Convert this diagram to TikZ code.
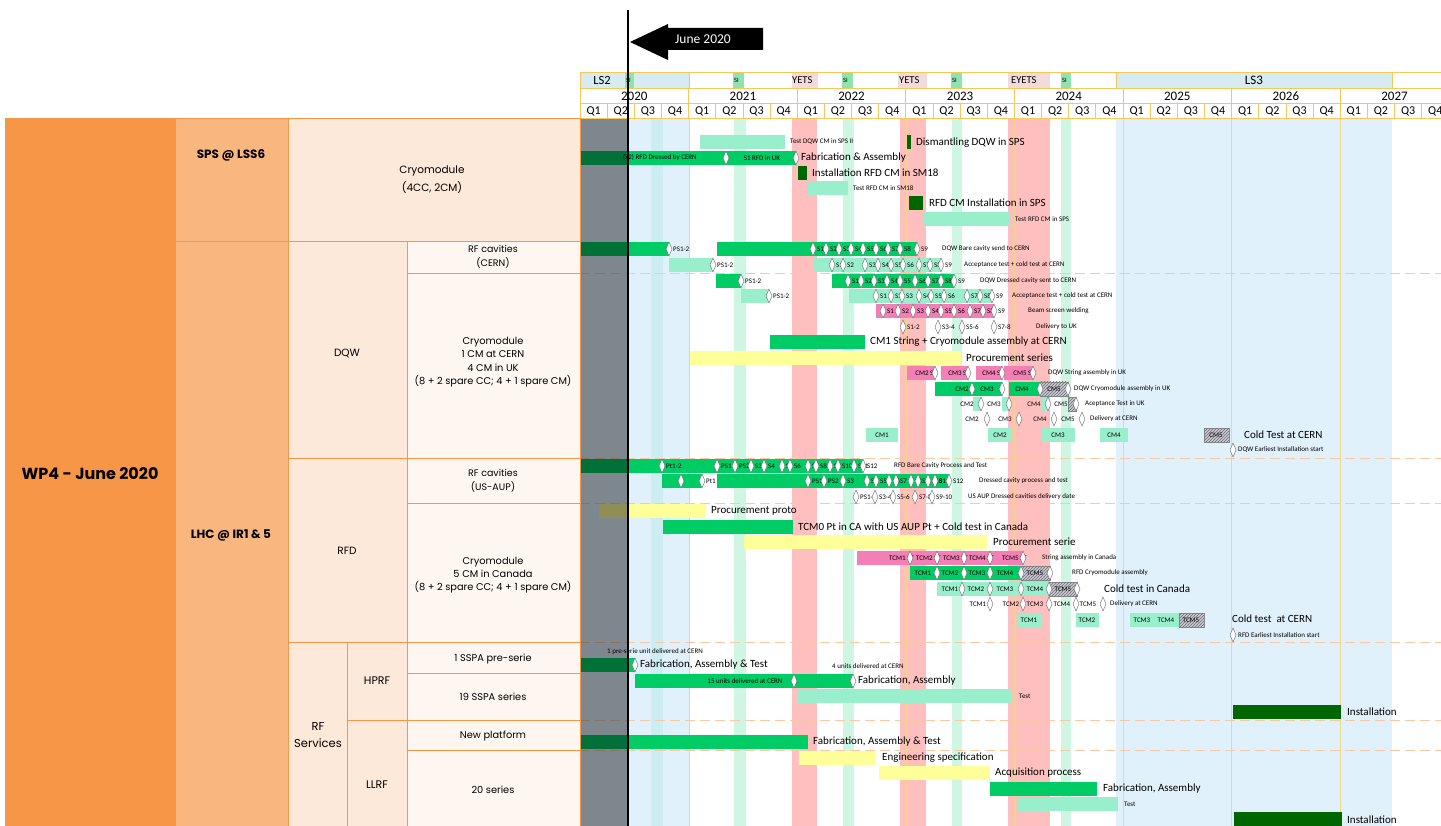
\documentclass[tikz,border=0pt]{standalone}
\usepackage{fontspec}
\setmainfont{Carlito}
\newfontfamily\lpfont{Poppins}
\usetikzlibrary{patterns}
\definecolor{gbar}{HTML}{00CC66}
\definecolor{dgbar}{HTML}{006600}
\definecolor{mint}{HTML}{99EECC}
\definecolor{ylw}{HTML}{FFFF99}
\definecolor{pnk}{HTML}{F47EB6}
\definecolor{hatchc}{HTML}{C8C8D6}
\definecolor{lblue}{HTML}{E1F1FC}
\definecolor{tealb}{HTML}{CCEEF2}
\definecolor{pinkband}{HTML}{FFBFBF}
\definecolor{mintband}{HTML}{CFF5E3}
\definecolor{hdrl}{HTML}{F9C65A}
\definecolor{lsc}{HTML}{D6EBF2}
\definecolor{sig}{HTML}{8EE3AE}
\definecolor{yets}{HTML}{F2DCDB}
\definecolor{or1}{HTML}{F79646}
\definecolor{or2}{HTML}{F9B77F}
\definecolor{or3}{HTML}{FDE9D9}
\definecolor{or4}{HTML}{FEF7F1}
\definecolor{yline}{HTML}{F2D48A}
\definecolor{dashc}{HTML}{F9C9A4}
\newcounter{nd}
\newcommand\gtx[4][sm]{\stepcounter{nd}\node[#1] (t\arabic{nd}) at (#2,#3) {#4};}
\newcommand\gbx[4]{\fill[#4] (#1,#3-7) rectangle (#2,#3+7);}
\newcommand\gdm[2]{\filldraw[dmd] (#1,#2-7) -- (#1+3,#2) -- (#1,#2+7) -- (#1-3,#2) -- cycle;}
\newcommand\dmrow[2]{%
  \foreach \xx/\ll in {#2}{\gtx{\xx+4}{#1}{\ll}}%
  \foreach \xx/\ll in {#2}{\gdm{\xx}{#1}}}
\begin{document}
\begin{tikzpicture}[x=1pt,y=-1pt,
  sm/.style={font=\fontsize{7}{8}\selectfont, anchor=west, inner sep=0pt},
  smc/.style={font=\fontsize{7}{8}\selectfont, inner sep=0pt},
  sme/.style={font=\fontsize{7}{8}\selectfont, anchor=east, inner sep=0pt},
  md/.style={font=\fontsize{11}{12}\selectfont, anchor=west, inner sep=0pt},
  gB/.style={fill=gbar}, dgB/.style={fill=dgbar}, mB/.style={fill=mint},
  yB/.style={fill=ylw}, pB/.style={fill=pnk},
  hB/.style={fill=hatchc, draw=black!45, line width=0.4pt, postaction={pattern=north east lines, pattern color=black!55}},
  dmd/.style={fill=white, draw=black!60, line width=0.4pt},
  lp/.style={draw=or1, line width=0.8pt},
  lt/.style={font=\lpfont\fontsize{9.8}{13.3}\selectfont, align=center},
  lm/.style={font=\lpfont\fontsize{10.5}{18}\selectfont, align=center}]
\useasboundingbox (0,0) rectangle (1441,826);
% ---------- background bands
\fill[lblue] (580,118) rectangle (689,826);
\fill[tealb] (651,118) rectangle (663,826);
\fill[lblue] (1116,118) rectangle (1392,826);
\foreach \a/\b in {734/746, 843/854, 952/962, 1061/1071} \fill[mintband] (\a,118) rectangle (\b,826);
\foreach \a/\b in {792/817, 900/926, 1008/1050} \fill[pinkband] (\a,118) rectangle (\b,826);
\foreach \x in {689,797,906,1014,1123,1231,1340} \draw[yline, line width=0.6pt] (\x,118) -- (\x,826);
\foreach \y in {273,458,503,642,720,750} \draw[dashc, line width=0.7pt, dash pattern=on 10pt off 5pt] (580,\y) -- (1441,\y);
% ---------- SPS
\gbx{700}{785}{142}{mB} \gtx{790}{142}{Test DQW CM in SPS II}
\gbx{907}{911}{142}{dgB} \gtx[md]{916}{143}{Dismantling DQW in SPS}
\gbx{580}{796}{158}{gB}
\gtx[smc]{660}{158}{(x2) RFD Dressed by CERN}
\gtx[smc]{762}{158}{S1 RFD in UK}
\gdm{726}{158} \gdm{796}{158}
\gtx[md]{801}{158}{Fabrication \& Assembly}
\gbx{798}{807}{173}{dgB} \gtx[md]{812}{173}{Installation RFD CM in SM18}
\gbx{807}{848}{188}{mB} \gtx{853}{188}{Test RFD CM in SM18}
\gbx{909}{923}{203}{dgB} \gtx[md]{929}{203}{RFD CM Installation in SPS}
\gbx{923}{1010}{219}{mB} \gtx{1015}{219}{Test RFD CM in SPS}
% ---------- DQW RF cavities
\gbx{580}{669}{249}{gB} \gbx{717}{917}{249}{gB}
\dmrow{249}{669/PS1-2}
\dmrow{249}{813/S1,826/S2,839/S3,851/S4,863/S5,876/S6,888/S7,900/S8,917/S9}
\gtx{942}{249}{DQW Bare cavity send to CERN}
\gbx{669}{713}{265}{mB} \gbx{813}{941}{265}{mB}
\dmrow{265}{713/PS1-2}
\dmrow{265}{832/S1,843/S2,865/S3,878/S4,891/S5,903/S6,919/S7,930/S8,941/S9}
\gtx{964}{265}{Acceptance test + cold test at CERN}
\gbx{716}{741}{281}{gB} \gbx{832}{954}{281}{gB}
\dmrow{281}{741/PS1-2}
\dmrow{281}{848/S1,861/S2,874/S3,887/S4,900/S5,915/S6,928/S7,941/S8,954/S9}
\gtx{980}{281}{DQW Dressed cavity sent to CERN}
\gbx{741}{769}{296}{mB} \gbx{849}{992}{296}{mB}
\dmrow{296}{769/PS1-2}
\dmrow{296}{876/S1,891/S2,902/S3,919/S4,931/S5,944/S6,967/S7,980/S8,992/S9}
\gtx{1012}{296}{Acceptance test + cold test at CERN}
\gbx{876}{994}{311}{pB}
\dmrow{311}{883/S1,898/S2,913/S3,928/S4,941/S5,954/S6,970/S7,983/S8,994/S9}
\gtx{1028}{311}{Beam screen welding}
\dmrow{327}{903/S1-2,938/S3-4,962/S5-6,994/S7-8}
\gtx{1036}{327}{Delivery to UK}
% ---------- DQW cryomodule
\gbx{770}{865}{342}{gB} \gtx[md]{870}{342}{CM1 String + Cryomodule assembly at CERN}
\gbx{690}{961}{358}{yB} \gtx[md]{966}{358}{Procurement series}
\gbx{907}{935}{373}{pB} \gbx{941}{968}{373}{pB} \gbx{976}{1002}{373}{pB} \gbx{1004}{1033}{373}{pB}
\gtx[sme]{937}{373}{CM2 ST} \gtx[sme]{970}{373}{CM3 ST} \gtx[sme]{1004}{373}{CM4 ST} \gtx[sme]{1035}{373}{CM5 ST}
\gdm{935}{373} \gdm{968}{373} \gdm{1002}{373} \gdm{1033}{373}
\gtx{1048}{373}{DQW String assembly in UK}
\gbx{935}{1002}{389}{gB} \gbx{1009}{1040}{389}{gB} \gbx{1040}{1068}{389}{hB}
\gtx[smc]{962}{389}{CM2} \gtx[smc]{987}{389}{CM3} \gtx[smc]{1022}{389}{CM4} \gtx[smc]{1054}{389}{CM5}
\gdm{972}{389} \gdm{1002}{389} \gdm{1040}{389} \gdm{1068}{389}
\gtx{1074}{389}{DQW Cryomodule assembly in UK}
\gbx{973}{981}{404}{mB} \gbx{1002}{1009}{404}{mB} \gbx{1041}{1048}{404}{mB} \gbx{1068}{1076}{404}{hB}
\gtx[smc]{967}{404}{CM2} \gtx[smc]{994}{404}{CM3} \gtx[smc]{1034}{404}{CM4} \gtx[smc]{1061}{404}{CM5}
\gdm{981}{404} \gdm{1009}{404} \gdm{1048}{404} \gdm{1076}{404}
\gtx{1085}{404}{Aceptance Test in UK}
\gtx[smc]{972}{419}{CM2} \gtx[smc]{1005}{419}{CM3} \gtx[smc]{1040}{419}{CM4} \gtx[smc]{1068}{419}{CM5}
\gdm{987}{419} \gdm{1019}{419} \gdm{1054}{419} \gdm{1082}{419}
\gtx{1090}{419}{Delivery at CERN}
\gbx{866}{898}{435}{mB} \gbx{988}{1012}{435}{mB} \gbx{1042}{1075}{435}{mB} \gbx{1100}{1128}{435}{mB} \gbx{1204}{1229}{435}{hB}
\gtx[smc]{882}{435}{CM1} \gtx[smc]{1000}{435}{CM2} \gtx[smc]{1058}{435}{CM3} \gtx[smc]{1114}{435}{CM4} \gtx[smc]{1216}{435}{CM5}
\gtx[md]{1244}{435}{Cold Test at CERN}
\gdm{1233}{450} \gtx{1238}{450}{DQW Earliest Installation start}
% ---------- RFD RF cavities
\gbx{580}{863}{466}{gB}
\dmrow{466}{662/Pt1-2,717/PS1,735/PS2,751/S3,764/S4,782/S5,790/S6,808/S7,816/S8,830/S9,838/S10,854/S11,863/S12}
\gtx{894}{466}{RFD Bare Cavity Process and Test}
\gbx{662}{702}{481}{gB} \gbx{717}{949}{481}{gB}
\dmrow{481}{681/,702/Pt1}
\dmrow{481}{808/PS1,824/PS2,843/S3,867/S4,876/S5,889/S6,896/S7,911/S8,918/S9,928/S10,935/S11,949/S12}
\gtx{979}{481}{Dressed cavity process and test}
\dmrow{497}{856/PS1-2,875/S3-4,893/S5-6,915/S7-8,932/S9-10}
\gtx{968}{497}{US AUP Dressed cavities delivery date}
% ---------- RFD cryomodule
\gbx{599}{706}{511}{yB} \gtx[md]{711}{511}{Procurement proto}
\gbx{663}{793}{527}{gB} \gtx[md]{798}{527}{TCM0 Pt in CA with US AUP Pt + Cold test in Canada}
\gbx{744}{987}{542}{yB} \gtx[md]{993}{542}{Procurement serie}
\gbx{857}{1023}{558}{pB}
\gtx[sme]{914}{558}{TCM1 ST} \gtx[sme]{941}{558}{TCM2 ST} \gtx[sme]{968}{558}{TCM3 ST} \gtx[sme]{994}{558}{TCM4 ST} \gtx[sme]{1027}{558}{TCM5 ST}
\gdm{910}{558} \gdm{937}{558} \gdm{964}{558} \gdm{990}{558} \gdm{1023}{558}
\gtx{1042}{558}{String assembly in Canada}
\gbx{910}{1021}{573}{gB} \gbx{1021}{1050}{573}{hB}
\gtx[smc]{923}{573}{TCM1} \gtx[smc]{950}{573}{TCM2} \gtx[smc]{977}{573}{TCM3} \gtx[smc]{1005}{573}{TCM4} \gtx[smc]{1035}{573}{TCM5}
\gdm{937}{573} \gdm{964}{573} \gdm{990}{573} \gdm{1021}{573} \gdm{1050}{573}
\gtx{1072}{573}{RFD Cryomodule assembly}
\gbx{937}{1049}{589}{mB} \gbx{1049}{1077}{589}{hB}
\gtx[smc]{950}{589}{TCM1} \gtx[smc]{976}{589}{TCM2} \gtx[smc]{1005}{589}{TCM3} \gtx[smc]{1035}{589}{TCM4} \gtx[smc]{1063}{589}{TCM5}
\gdm{962}{589} \gdm{990}{589} \gdm{1021}{589} \gdm{1049}{589} \gdm{1077}{589}
\gtx[md]{1104}{589}{Cold test in Canada}
\gtx[smc]{978}{604}{TCM1} \gtx[smc]{1011}{604}{TCM2} \gtx[smc]{1035}{604}{TCM3} \gtx[smc]{1062}{604}{TCM4} \gtx[smc]{1088}{604}{TCM5}
\gdm{990}{604} \gdm{1023}{604} \gdm{1049}{604} \gdm{1076}{604} \gdm{1103}{604}
\gtx{1110}{604}{Delivery at CERN}
\gbx{1017}{1042}{620}{mB} \gbx{1076}{1099}{620}{mB} \gbx{1130}{1154}{620}{mB} \gbx{1154}{1179}{620}{mB} \gbx{1179}{1204}{620}{hB}
\gtx[smc]{1029}{620}{TCM1} \gtx[smc]{1087}{620}{TCM2} \gtx[smc]{1142}{620}{TCM3} \gtx[smc]{1166}{620}{TCM4} \gtx[smc]{1191}{620}{TCM5}
\gtx[md]{1232}{619}{Cold test \ at CERN}
\gdm{1233}{635} \gtx{1238}{635}{RFD Earliest Installation start}
% ---------- RF services
\gtx{607}{652}{1 pre-serie unit delivered at CERN}
\gbx{580}{635}{665}{gB} \gdm{635}{665}
\gtx[md]{640}{665}{Fabrication, Assembly \& Test}
\gtx{832}{666}{4 units delivered at CERN}
\gbx{635}{853}{681}{gB}
\gtx[smc]{745}{681}{15 units delivered at CERN}
\gdm{794}{681} \gdm{853}{681}
\gtx[md]{858}{681}{Fabrication, Assembly}
\gbx{798}{1012}{696}{mB} \gtx{1019}{696}{Test}
\gbx{1233}{1341}{712}{dgB} \gtx[md]{1347}{712}{Installation}
\gbx{580}{808}{742}{gB} \gtx[md]{813}{742}{Fabrication, Assembly \& Test}
\gbx{799}{876}{758}{yB} \gtx[md]{882}{758}{Engineering specification}
\gbx{879}{990}{773}{yB} \gtx[md]{995}{773}{Acquisition process}
\gbx{990}{1097}{789}{gB} \gtx[md]{1103}{789}{Fabrication, Assembly}
\gbx{1017}{1118}{804}{mB} \gtx{1124}{804}{Test}
\gbx{1234}{1342}{819}{dgB} \gtx[md]{1347}{820}{Installation}
% ---------- gray overlay (past)
\fill[black, opacity=0.44] (580,118) rectangle (627,826);
% ---------- header
\fill[lsc] (580,72) rectangle (625,88);
\fill[sig] (625,72) rectangle (634,88);
\fill[lsc] (634,72) rectangle (689,88);
\fill[sig] (733,72) rectangle (744,88);
\fill[yets] (792,72) rectangle (818,88);
\fill[sig] (842,72) rectangle (853,88);
\fill[yets] (898,72) rectangle (927,88);
\fill[sig] (951,72) rectangle (962,88);
\fill[yets] (1008,72) rectangle (1050,88);
\fill[sig] (1061,72) rectangle (1071,88);
\fill[lsc] (1116,72) rectangle (1392,88);
\foreach \y in {72,88,103,118} \draw[hdrl, line width=0.8pt] (580,\y) -- (1441,\y);
\foreach \x in {580,689,1116,1392} \draw[hdrl, line width=0.8pt] (\x,72) -- (\x,88);
\foreach \k in {0,...,7} \draw[hdrl, line width=0.8pt] (580+108.6*\k,88) -- (580+108.6*\k,103);
\foreach \k in {0,...,31} \draw[hdrl, line width=0.8pt] (580+27.15*\k,103) -- (580+27.15*\k,118);
\gtx[font=\fontsize{12.5}{13}\selectfont, inner sep=0pt]{602}{80}{LS2}
\foreach \x in {625,733,842,951,1061} {\gtx[font=\fontsize{6.5}{7}\selectfont, anchor=west, inner sep=0pt]{\x+1}{80}{SI}}
\gtx[font=\fontsize{10.5}{11}\selectfont, anchor=west, inner sep=0pt]{792}{80}{YETS}
\gtx[font=\fontsize{10.5}{11}\selectfont, anchor=west, inner sep=0pt]{899}{80}{YETS}
\gtx[font=\fontsize{10.5}{11}\selectfont, anchor=west, inner sep=0pt]{1011}{80}{EYETS}
\gtx[font=\fontsize{13}{14}\selectfont, inner sep=0pt]{1254}{80}{LS3}
\foreach \k/\yr in {0/2020,1/2021,2/2022,3/2023,4/2024,5/2025,6/2026,7/2027}
  {\gtx[font=\fontsize{13}{14}\selectfont, inner sep=0pt]{580+108.6*\k+54.3}{96}{\yr}}
\foreach \k in {0,...,31} {\pgfmathtruncatemacro\qq{mod(\k,4)+1}
  \gtx[font=\fontsize{12}{13}\selectfont, inner sep=0pt]{580+27.15*\k+13.6}{111}{Q\qq}}
% ---------- June 2020 marker
\draw[line width=2.6pt] (628,10) -- (628,826);
\fill (630,42) -- (668,24) -- (668,28) -- (763,28) -- (763,50) -- (668,50) -- (668,60) -- cycle;
\node[text=white, font=\fontsize{13.5}{15}\selectfont, inner sep=0pt] (jun) at (703,39) {June 2020};
% ---------- left panel
\filldraw[lp, fill=or1] (5,118) rectangle (175,826);
\filldraw[lp, fill=or2] (175,118) rectangle (288,241);
\filldraw[lp, fill=or2] (175,241) rectangle (288,826);
\filldraw[lp, fill=or3] (288,118) rectangle (580,241);
\filldraw[lp, fill=or3] (288,241) rectangle (407,458);
\filldraw[lp, fill=or3] (288,458) rectangle (407,642);
\filldraw[lp, fill=or3] (288,642) rectangle (347,826);
\filldraw[lp, fill=or3] (347,642) rectangle (407,720);
\filldraw[lp, fill=or3] (347,720) rectangle (407,826);
\foreach \a/\b in {241/273,273/458,458/503,503/642,642/673,673/720,720/750,750/826}
  \filldraw[lp, fill=or4] (407,\a) rectangle (580,\b);
\node[font=\lpfont\bfseries\fontsize{16}{18}\selectfont] (wp4) at (90,474) {WP4 - June 2020};
\node[font=\lpfont\bfseries\fontsize{12}{13}\selectfont] (sps) at (231,155) {SPS @ LSS6};
\node[font=\lpfont\bfseries\fontsize{12}{13}\selectfont] (lhc) at (231,535) {LHC @ IR1 \& 5};
\node[lm] (cmsps) at (432,180) {Cryomodule\\(4CC, 2CM)};
\node[lm] (dqw) at (347,353) {DQW};
\node[lm] (rfd) at (347,551) {RFD};
\node[font=\lpfont\fontsize{11.5}{17}\selectfont, align=center] (rfs) at (318,735) {RF\\Services};
\node[font=\lpfont\fontsize{11}{13}\selectfont] (hprf) at (377,681) {HPRF};
\node[font=\lpfont\fontsize{11}{13}\selectfont] (llrf) at (377,785) {LLRF};
\node[font=\lpfont\fontsize{9.5}{14}\selectfont, align=center] (c1) at (493,257) {RF cavities\\(CERN)};
\node[lt] (c2) at (493,362) {Cryomodule\\1 CM at CERN\\4 CM in UK\\(8 + 2 spare CC; 4 + 1 spare CM)};
\node[font=\lpfont\fontsize{9.5}{14}\selectfont, align=center] (c3) at (493,481) {RF cavities\\(US-AUP)};
\node[lt] (c4) at (493,575) {Cryomodule\\5 CM in Canada\\(8 + 2 spare CC; 4 + 1 spare CM)};
\node[lt] (c5) at (493,659) {1 SSPA pre-serie};
\node[lt] (c6) at (493,697) {19 SSPA series};
\node[lt] (c7) at (493,736) {New platform};
\node[lt] (c8) at (493,790) {20 series};
\end{tikzpicture}
\end{document}
